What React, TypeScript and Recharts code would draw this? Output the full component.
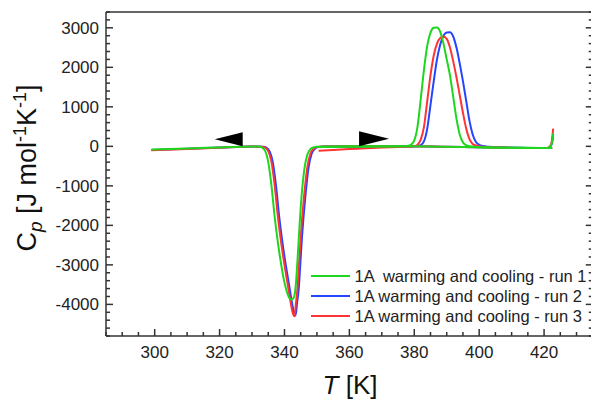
import React from 'react'
import { LineChart, Line, XAxis, YAxis, ReferenceDot, Legend } from 'recharts'

const FONT = '"Liberation Sans", Arial, Helvetica, sans-serif'
const AXIS = '#333'

// tick positions (K and J mol-1 K-1)
const xTicks = [285, 290, 295, 300, 305, 310, 315, 320, 325, 330, 335, 340, 345, 350, 355, 360, 365, 370, 375, 380, 385, 390, 395, 400, 405, 410, 415, 420, 425, 430, 435]
const xLabels = [300, 320, 340, 360, 380, 400, 420]
const yTicks = [-4800, -4600, -4400, -4200, -4000, -3800, -3600, -3400, -3200, -3000, -2800, -2600, -2400, -2200, -2000, -1800, -1600, -1400, -1200, -1000, -800, -600, -400, -200, 0, 200, 400, 600, 800, 1000, 1200, 1400, 1600, 1800, 2000, 2200, 2400, 2600, 2800, 3000, 3200, 3400]
const yLabels = [-4000, -3000, -2000, -1000, 0, 1000, 2000, 3000]

// run 1 (green)
const run1Cooling = [
  { t: 299, cp: -80 }, { t: 310, cp: -55 }, { t: 320, cp: -28 }, { t: 330, cp: -3 }, { t: 332, cp: -5 },
  { t: 333, cp: -25 }, { t: 334, cp: -110 }, { t: 335, cp: -400 }, { t: 336, cp: -1000 }, { t: 337, cp: -1800 },
  { t: 338, cp: -2450 }, { t: 339, cp: -3000 }, { t: 340, cp: -3450 }, { t: 341, cp: -3750 }, { t: 341.5, cp: -3840 },
  { t: 342.3, cp: -3880 }, { t: 343, cp: -3800 }, { t: 343.5, cp: -3500 }, { t: 344, cp: -2900 }, { t: 344.5, cp: -2200 },
  { t: 345, cp: -1550 }, { t: 346, cp: -650 }, { t: 347, cp: -220 }, { t: 348, cp: -70 }, { t: 349, cp: -25 },
  { t: 350, cp: -10 }, { t: 360, cp: 0 }, { t: 375, cp: 0 }, { t: 385, cp: -5 }, { t: 395, cp: -15 },
  { t: 405, cp: -30 }, { t: 415, cp: -38 }, { t: 422.5, cp: -40 },
]
const run1Warming = [
  { t: 351, cp: -20 }, { t: 360, cp: -10 }, { t: 370, cp: -5 }, { t: 377, cp: 0 }, { t: 378, cp: 10 },
  { t: 379, cp: 40 }, { t: 380, cp: 150 }, { t: 381, cp: 500 }, { t: 382, cp: 1200 }, { t: 383, cp: 1950 },
  { t: 384, cp: 2550 }, { t: 385, cp: 2880 }, { t: 386, cp: 3000 }, { t: 387, cp: 3010 }, { t: 388, cp: 2900 },
  { t: 389, cp: 2600 }, { t: 390, cp: 2200 }, { t: 391, cp: 1800 }, { t: 392, cp: 1250 }, { t: 393, cp: 700 },
  { t: 394, cp: 300 }, { t: 395, cp: 100 }, { t: 396, cp: 30 }, { t: 397, cp: 0 }, { t: 400, cp: -20 },
  { t: 410, cp: -35 }, { t: 420, cp: -40 }, { t: 421, cp: -40 }, { t: 422, cp: 0 }, { t: 422.5, cp: 120 },
  { t: 422.8, cp: 330 },
]

// run 2 (blue)
const run2Cooling = [
  { t: 299, cp: -90 }, { t: 310, cp: -60 }, { t: 320, cp: -30 }, { t: 330, cp: -5 }, { t: 333.4, cp: -8 },
  { t: 334.4, cp: -30 }, { t: 335.4, cp: -120 }, { t: 336.4, cp: -400 }, { t: 337.4, cp: -1000 }, { t: 338.4, cp: -1800 },
  { t: 339.4, cp: -2450 }, { t: 340.4, cp: -3000 }, { t: 341.4, cp: -3500 }, { t: 342.4, cp: -4000 }, { t: 342.9, cp: -4200 },
  { t: 343.4, cp: -4280 }, { t: 343.9, cp: -3950 }, { t: 344.4, cp: -3600 }, { t: 344.9, cp: -2950 }, { t: 345.4, cp: -2300 },
  { t: 346.4, cp: -1300 }, { t: 347.4, cp: -550 }, { t: 348.4, cp: -180 }, { t: 349.4, cp: -60 }, { t: 350.4, cp: -20 },
  { t: 352, cp: -5 }, { t: 360, cp: 0 }, { t: 375, cp: 0 }, { t: 385, cp: -5 }, { t: 395, cp: -15 },
  { t: 405, cp: -30 }, { t: 415, cp: -40 }, { t: 422.5, cp: -45 },
]
const run2Warming = [
  { t: 351, cp: -15 }, { t: 360, cp: -10 }, { t: 370, cp: -5 }, { t: 380, cp: 0 }, { t: 381, cp: 5 },
  { t: 382, cp: 30 }, { t: 383, cp: 130 }, { t: 384, cp: 450 }, { t: 385, cp: 1050 }, { t: 386, cp: 1650 },
  { t: 387, cp: 2200 }, { t: 388, cp: 2580 }, { t: 389, cp: 2800 }, { t: 390, cp: 2880 }, { t: 391, cp: 2890 },
  { t: 392, cp: 2780 }, { t: 393, cp: 2500 }, { t: 394, cp: 2100 }, { t: 395, cp: 1650 }, { t: 396, cp: 1150 },
  { t: 397, cp: 650 }, { t: 398, cp: 300 }, { t: 399, cp: 110 }, { t: 400, cp: 40 }, { t: 401, cp: 10 },
  { t: 403, cp: -10 }, { t: 410, cp: -35 }, { t: 420, cp: -45 }, { t: 421, cp: -45 }, { t: 422, cp: 0 },
  { t: 422.5, cp: 100 }, { t: 422.8, cp: 300 },
]

// run 3 (red)
const run3Cooling = [
  { t: 299, cp: -100 }, { t: 310, cp: -65 }, { t: 320, cp: -35 }, { t: 330, cp: -5 }, { t: 333, cp: -8 },
  { t: 334, cp: -30 }, { t: 335, cp: -120 }, { t: 336, cp: -400 }, { t: 337, cp: -1000 }, { t: 338, cp: -1800 },
  { t: 339, cp: -2450 }, { t: 340, cp: -3000 }, { t: 341, cp: -3500 }, { t: 342, cp: -4000 }, { t: 342.5, cp: -4200 },
  { t: 343.1, cp: -4300 }, { t: 343.5, cp: -4000 }, { t: 344, cp: -3600 }, { t: 344.5, cp: -2950 }, { t: 345, cp: -2300 },
  { t: 346, cp: -1300 }, { t: 347, cp: -550 }, { t: 348, cp: -180 }, { t: 349, cp: -60 }, { t: 350, cp: -20 },
  { t: 352, cp: -5 }, { t: 360, cp: 0 }, { t: 375, cp: 0 }, { t: 385, cp: -5 }, { t: 395, cp: -15 },
  { t: 405, cp: -30 }, { t: 415, cp: -45 }, { t: 422.5, cp: -45 },
]
const run3Warming = [
  { t: 350.5, cp: -110 }, { t: 355, cp: -90 }, { t: 360, cp: -70 }, { t: 365, cp: -50 }, { t: 370, cp: -30 },
  { t: 375, cp: -15 }, { t: 379, cp: -5 }, { t: 380, cp: 0 }, { t: 381, cp: 40 }, { t: 382, cp: 170 },
  { t: 383, cp: 500 }, { t: 384, cp: 1150 }, { t: 385, cp: 1800 }, { t: 386, cp: 2300 }, { t: 387, cp: 2600 },
  { t: 388, cp: 2740 }, { t: 389, cp: 2780 }, { t: 390, cp: 2720 }, { t: 391, cp: 2500 }, { t: 392, cp: 2150 },
  { t: 393, cp: 1750 }, { t: 394, cp: 1300 }, { t: 395, cp: 850 }, { t: 396, cp: 450 }, { t: 397, cp: 180 },
  { t: 398, cp: 60 }, { t: 399, cp: 20 }, { t: 401, cp: -10 }, { t: 410, cp: -40 }, { t: 420, cp: -45 },
  { t: 421, cp: -45 }, { t: 422, cp: 20 }, { t: 422.5, cp: 200 }, { t: 422.8, cp: 450 },
]

const runLabels = ['1A  warming and cooling - run 1', '1A warming and cooling - run 2', '1A warming and cooling - run 3']
const runColors = ['#1fd61f', '#2444ff', '#ff3434']

// direction arrows (cooling <-, warming ->)
const arrowMarks = [
  { t: 322.8, cp: 178, dir: 'left' },
  { t: 367.6, cp: 190, dir: 'right' },
]

const BottomTick = (props: any) => {
  const { x, y, payload } = props
  const major = payload.value % 20 === 0
  return (
    <g>
      <line x1={x} x2={x} y1={y} y2={y - (major ? 7 : 4)} stroke={AXIS} strokeWidth={1.5} />
      {xLabels.includes(payload.value) && (
        <text x={x} y={y + 22} textAnchor="middle" fontSize={17} fill="#222" fontFamily={FONT}>
          {payload.value}
        </text>
      )}
    </g>
  )
}

const TopTick = (props: any) => {
  const { x, y, payload } = props
  const major = payload.value % 20 === 0
  return <line x1={x} x2={x} y1={y} y2={y + (major ? 7 : 4)} stroke={AXIS} strokeWidth={1.5} />
}

const LeftTick = (props: any) => {
  const { x, y, payload } = props
  const major = payload.value % 1000 === 0
  return (
    <g>
      <line x1={x} x2={x + (major ? 7 : 4)} y1={y} y2={y} stroke={AXIS} strokeWidth={1.5} />
      {yLabels.includes(payload.value) && (
        <text x={x - 7} y={y + 6} textAnchor="end" fontSize={17} fill="#222" fontFamily={FONT}>
          {payload.value}
        </text>
      )}
    </g>
  )
}

const RightTick = (props: any) => {
  const { x, y, payload } = props
  const major = payload.value % 1000 === 0
  return <line x1={x} x2={x - (major ? 7 : 4)} y1={y} y2={y} stroke={AXIS} strokeWidth={1.5} />
}

const YTitle = () => (
  <text x={36} y={168} transform="rotate(-90, 36, 168)" textAnchor="middle" fontSize={27} fill="#111" fontFamily={FONT}>
    C
    <tspan dy={6} fontSize={19} fontStyle="italic">p</tspan>
    <tspan dy={-6}> [J mol</tspan>
    <tspan dy={-10} fontSize={18}>-1</tspan>
    <tspan dy={10}>K</tspan>
    <tspan dy={-10} fontSize={18}>-1</tspan>
    <tspan dy={10}>]</tspan>
  </text>
)

const XTitle = () => (
  <text x={350} y={394} textAnchor="middle" fontSize={26} fill="#111" fontFamily={FONT}>
    <tspan fontStyle="italic">T</tspan> [K]
  </text>
)

const Arrow = (props: any) => {
  const { cx, cy, dir } = props
  const pts = dir === 'left'
    ? `${cx - 14},${cy} ${cx + 14},${cy - 7} ${cx + 14},${cy + 7}`
    : `${cx + 15},${cy} ${cx - 15},${cy - 7.5} ${cx - 15},${cy + 7.5}`
  return <polygon points={pts} fill="#000" />
}

const renderLegend = () => (
  <div style={{ fontFamily: FONT, fontSize: 16.5, lineHeight: '20.25px', color: '#222' }}>
    {runLabels.map((label, i) => (
      <div key={label} style={{ display: 'flex', alignItems: 'center', whiteSpace: 'pre' }}>
        <span style={{ display: 'inline-block', width: 39, height: 2, background: runColors[i], marginRight: 5 }} />
        {label}
      </div>
    ))}
  </div>
)

export default function App() {
  return (
    <div style={{ position: 'absolute', left: 0, top: 0, width: 591, height: 400, overflow: 'hidden', background: '#fff' }}>
      <LineChart width={600} height={400} margin={{ top: 11, right: 6.25, bottom: 24, left: 46 }} style={{ fontFamily: FONT }}>
        <XAxis
          dataKey="t" type="number" domain={[285, 435]} allowDataOverflow ticks={xTicks} interval={0}
          tickSize={0} tickMargin={0} tickLine={false} tick={<BottomTick />} height={40}
          axisLine={{ stroke: AXIS, strokeWidth: 1.5 }}
        />
        <XAxis
          xAxisId="top" orientation="top" type="number" domain={[285, 435]} allowDataOverflow ticks={xTicks} interval={0}
          tickSize={0} tickMargin={0} tickLine={false} tick={<TopTick />} height={1}
          axisLine={{ stroke: AXIS, strokeWidth: 1.5 }}
        />
        <YAxis
          type="number" domain={[-4800, 3400]} allowDataOverflow ticks={yTicks} interval={0}
          tickSize={0} tickMargin={0} tickLine={false} tick={<LeftTick />} width={60}
          axisLine={{ stroke: AXIS, strokeWidth: 1.5 }}
        />
        <YAxis
          yAxisId="right" orientation="right" type="number" domain={[-4800, 3400]} allowDataOverflow ticks={yTicks} interval={0}
          tickSize={0} tickMargin={0} tickLine={false} tick={<RightTick />} width={1}
          axisLine={{ stroke: AXIS, strokeWidth: 1.5 }}
        />
        <Legend layout="vertical" align="center" verticalAlign="middle" content={renderLegend}
          wrapperStyle={{ left: 310.5, top: 265.5, width: 'auto', height: 'auto' }} />
        <Line data={run2Cooling} dataKey="cp" stroke={runColors[1]} strokeWidth={2} dot={false} activeDot={false} type="monotone" isAnimationActive={false} legendType="none" />
        <Line data={run2Warming} dataKey="cp" stroke={runColors[1]} strokeWidth={2} dot={false} activeDot={false} type="monotone" isAnimationActive={false} legendType="none" />
        <Line data={run3Cooling} dataKey="cp" stroke={runColors[2]} strokeWidth={2} dot={false} activeDot={false} type="monotone" isAnimationActive={false} legendType="none" />
        <Line data={run3Warming} dataKey="cp" stroke={runColors[2]} strokeWidth={2} dot={false} activeDot={false} type="monotone" isAnimationActive={false} legendType="none" />
        <Line data={run1Cooling} dataKey="cp" stroke={runColors[0]} strokeWidth={2} dot={false} activeDot={false} type="monotone" isAnimationActive={false} legendType="none" />
        <Line data={run1Warming} dataKey="cp" stroke={runColors[0]} strokeWidth={2} dot={false} activeDot={false} type="monotone" isAnimationActive={false} legendType="none" />
        {arrowMarks.map((a) => (
          <ReferenceDot key={a.dir} x={a.t} y={a.cp} r={1} shape={(p: any) => <Arrow {...p} dir={a.dir} />} />
        ))}
        <YTitle />
        <XTitle />
      </LineChart>
    </div>
  )
}
